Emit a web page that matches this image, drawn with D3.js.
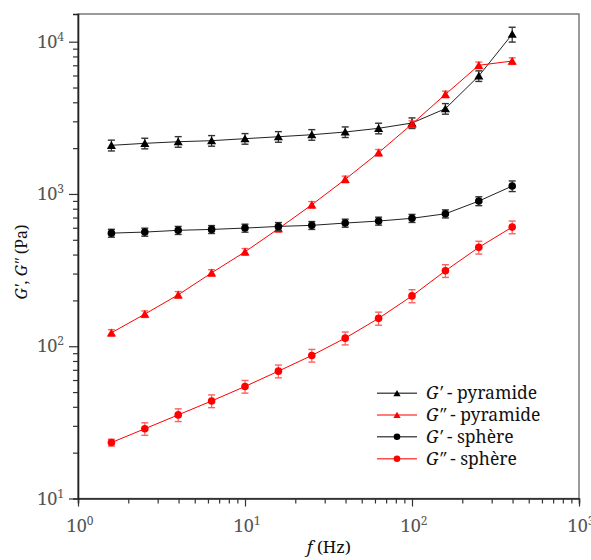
<!DOCTYPE html>
<html><head><meta charset="utf-8">
<script src="https://cdn.jsdelivr.net/npm/d3@7"></script>
<style>body{margin:0;background:#fff}svg{display:block}</style>
</head><body>
<svg id="c" width="591" height="560"></svg>
<script>
const freqs = [1.585, 2.512, 3.981, 6.310, 10, 15.85, 25.12, 39.81, 63.10, 100, 158.5, 251.2, 398.1];
const gpPyr  = [2086, 2150, 2203, 2238, 2307, 2376, 2449, 2552, 2698, 2924, 3631, 5957, 11190];
const gpPyrErr = [170, 172, 176, 179, 185, 190, 196, 204, 216, 234, 290, 475, 1250];
const gppPyr = [122.5, 162.5, 217.6, 303, 417, 591, 849, 1247, 1866, 2878, 4508, 6997, 7464];
const gppPyrErr = [6, 8, 11, 15, 21, 30, 42, 62, 93, 144, 225, 350, 370];
const gpSph  = [553, 562, 577, 585, 597, 612, 622, 644, 664, 692, 741, 898, 1127];
const gpSphErr = [33, 34, 35, 35, 36, 37, 37, 39, 40, 42, 45, 60, 90];
const gppSph = [23.3, 28.7, 35.4, 43.7, 54.4, 68.6, 87.0, 113, 152.4, 214, 313, 446, 606];
const gppSphErr = [1.2, 2.7, 3.4, 4.2, 5.2, 6.6, 8.3, 11, 15, 21, 30, 43, 58];
const xTickExps = [0, 1, 2, 3];
const yTickExps = [1, 2, 3, 4];
const seriesNames = ["G′ - pyramide", "G″ - pyramide", "G′ - sphère", "G″ - sphère"];

const series = [
  {name: seriesNames[0], vals: gpPyr, err: gpPyrErr, color: "#000", line: "#222", bar: "#333", shape: "tri"},
  {name: seriesNames[1], vals: gppPyr, err: gppPyrErr, color: "#ff0000", line: "#ff0000", bar: "#ff6060", shape: "tri"},
  {name: seriesNames[2], vals: gpSph, err: gpSphErr, color: "#000", line: "#222", bar: "#333", shape: "circ"},
  {name: seriesNames[3], vals: gppSph, err: gppSphErr, color: "#ff0000", line: "#ff0000", bar: "#ff6060", shape: "circ"}
];

const L = 78, R = 579, T = 14, B = 498.5;
const svg = d3.select("#c");
const x = d3.scaleLog().domain([1, 1000]).range([L, R]);
const y = d3.scaleLog().domain([10, 15200]).range([B, T]);
const FONT = "'Noto Serif', 'DejaVu Serif', serif";

// frame
svg.append("rect").attr("x", L).attr("y", T).attr("width", R - L).attr("height", B - T)
  .attr("fill", "none").attr("stroke", "#666").attr("stroke-width", 1.3);

// axes
const xAxis = d3.axisBottom(x).tickValues(d3.range(0, 3).flatMap(e => d3.range(1, 10).map(m => m * Math.pow(10, e))).concat([1000]))
  .tickFormat("").tickSizeOuter(0).tickSize(5);
const gx = svg.append("g").attr("transform", `translate(0,${B})`).call(xAxis);
const yVals = d3.range(1, 4).flatMap(e => d3.range(1, 10).map(m => m * Math.pow(10, e))).concat([10000]);
const yAxis = d3.axisLeft(y).tickValues(yVals.filter(v => v <= 15200)).tickFormat("").tickSizeOuter(0).tickSize(5);
const gy = svg.append("g").attr("transform", `translate(${L},0)`).call(yAxis);
[gx, gy].forEach(g => {
  g.select(".domain").attr("stroke", "#222").attr("stroke-width", 1.6);
  g.selectAll(".tick line").attr("stroke", "#333").attr("stroke-width", 1.2);
});
gx.selectAll(".tick line").filter(d => xTickExps.some(e => Math.abs(d - Math.pow(10, e)) < 1e-9)).attr("y2", 8);
gy.selectAll(".tick line").filter(d => yTickExps.some(e => Math.abs(d - Math.pow(10, e)) < 1e-9)).attr("x2", -9);

// tick labels
xTickExps.forEach(e => {
  const t = svg.append("text").attr("x", x(Math.pow(10, e)) + 2).attr("y", 532)
    .attr("text-anchor", "middle").attr("font-family", FONT).attr("font-size", 18).attr("fill", "#555");
  t.append("tspan").text("10");
  t.append("tspan").attr("dy", -7).attr("font-size", 12).text(e);
});
yTickExps.forEach(e => {
  const t = svg.append("text").attr("x", 64).attr("y", y(Math.pow(10, e)) + 6)
    .attr("text-anchor", "end").attr("font-family", FONT).attr("font-size", 18).attr("fill", "#555");
  t.append("tspan").text("10");
  t.append("tspan").attr("dy", -7).attr("font-size", 12).text(e);
});

// axis titles
const xt = svg.append("text").attr("x", 329).attr("y", 553).attr("text-anchor", "middle")
  .attr("font-family", FONT).attr("font-size", 17).attr("fill", "#111");
xt.append("tspan").attr("font-style", "italic").text("f");
xt.append("tspan").text(" (Hz)");
const yt = svg.append("text").attr("transform", "translate(27,262) rotate(-90)").attr("text-anchor", "middle")
  .attr("font-family", FONT).attr("font-size", 16).attr("fill", "#111");
yt.append("tspan").attr("font-style", "italic").text("G'");
yt.append("tspan").text(", ");
yt.append("tspan").attr("font-style", "italic").text("G\"");
yt.append("tspan").text(" (Pa)");

const triPath = s => `M0,${-s}L${s * 0.95},${s * 0.65}L${-s * 0.95},${s * 0.65}Z`;

series.forEach(s => {
  const pts = freqs.map((f, i) => ({f, v: s.vals[i], e: s.err[i]}));
  const g = svg.append("g");
  g.append("path").datum(pts).attr("fill", "none").attr("stroke", s.line).attr("stroke-width", 1)
    .attr("d", d3.line().x(d => x(d.f)).y(d => y(d.v)));
  // error bars
  pts.forEach(d => {
    const cx = x(d.f), y1 = y(d.v + d.e), y2 = y(d.v - d.e);
    g.append("line").attr("x1", cx).attr("x2", cx).attr("y1", y1).attr("y2", y2).attr("stroke", s.bar).attr("stroke-width", 1.2);
    [y1, y2].forEach(yy => g.append("line").attr("x1", cx - 3.5).attr("x2", cx + 3.5).attr("y1", yy).attr("y2", yy)
      .attr("stroke", s.bar).attr("stroke-width", 1.4));
  });
  pts.forEach(d => {
    if (s.shape === "tri") g.append("path").attr("d", triPath(4.8)).attr("transform", `translate(${x(d.f)},${y(d.v) + 0.5})`).attr("fill", s.color);
    else g.append("circle").attr("cx", x(d.f)).attr("cy", y(d.v)).attr("r", 3.8).attr("fill", s.color);
  });
});

// legend
const legY = [393.3, 415, 436.7, 458.7];
series.forEach((s, i) => {
  const g = svg.append("g");
  g.append("line").attr("x1", 377).attr("x2", 417).attr("y1", legY[i]).attr("y2", legY[i])
    .attr("stroke", s.color === "#000" ? "#555" : "#ff5050").attr("stroke-width", 1.6);
  if (s.shape === "tri") g.append("path").attr("d", triPath(3.8)).attr("transform", `translate(397,${legY[i] + 0.5})`).attr("fill", s.color);
  else g.append("circle").attr("cx", 397).attr("cy", legY[i]).attr("r", 3.3).attr("fill", s.color);
  const t = g.append("text").attr("x", 426).attr("y", legY[i] + 6).attr("font-family", FONT).attr("font-size", 17.5).attr("fill", "#111");
  const parts = s.name.split(" - ");
  t.append("tspan").attr("font-style", "italic").text(parts[0]);
  t.append("tspan").text(" - " + parts[1]);
});
</script>
</body></html>
